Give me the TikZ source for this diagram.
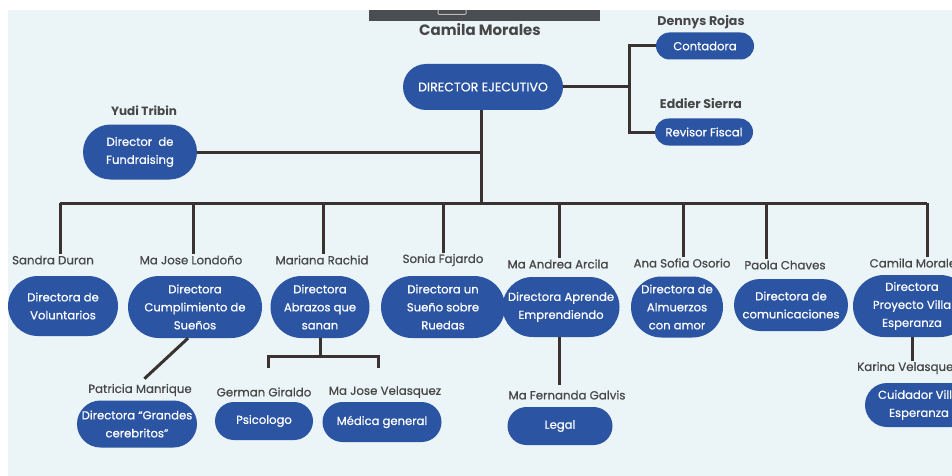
\documentclass[tikz,border=0pt]{standalone}
\usepackage{fontspec}
\setmainfont{Poppins}
\newfontfamily\mymedfont{Poppins}[FakeBold=0.6]
\usetikzlibrary{calc}
\definecolor{boxblue}{HTML}{2B54A3}
\definecolor{bgblue}{HTML}{EBF4F7}
\definecolor{conncol}{HTML}{3A3230}
\definecolor{labcol}{HTML}{474747}
\definecolor{topbar}{HTML}{4B4E51}
\newcommand\myboxfont{\mymedfont\fontsize{11.6}{18}\selectfont}
\newcommand\mylabfont{\mymedfont\fontsize{11.8}{14}\selectfont}
\newcommand\myboldfont{\fontsize{12.6}{15}\selectfont\bfseries}
\begin{document}
\begin{tikzpicture}[x=1pt,y=-1pt,
  pill/.style 2 args={fill=boxblue, text=white, minimum width=#1, minimum height=#2,
    rounded corners={0.5*#2}, inner sep=0pt, align=center, font=\myboxfont},
  lab/.style={text=labcol, inner sep=1pt, font=\mylabfont},
  blab/.style={text=labcol, inner sep=1pt, font=\myboldfont},
  conn/.style={draw=conncol, line width=3pt}]
\clip (0,0) rectangle (952,476);
\useasboundingbox (0,0) rectangle (952,476);
\fill[white] (0,0) rectangle (952,476);
\fill[bgblue] (8,10) rectangle (952,476);
\fill[topbar] (369,10) rectangle (600,21);
\draw[gray!55, line width=1pt, rounded corners=1pt] (438,10) -- (438,14.5) -- (466,14.5) -- (466,10);

% top
\node[blab, font=\fontsize{15}{17}\selectfont\bfseries] (tcam) at (480,30) {Camila Morales};
\node[pill={160pt}{46pt}, font=\mymedfont\fontsize{12.6}{15}\selectfont] (dir) at (483,87) {DIRECTOR EJECUTIVO};
\node[blab] (lden) at (701,22) {Dennys Rojas};
\node[pill={98pt}{27pt}] (cont) at (705,46) {Contadora};
\node[blab] (ledd) at (701,104) {Eddier Sierra};
\node[pill={98pt}{27pt}] (rev) at (704,132) {Revisor Fiscal};
\node[blab, font=\fontsize{12}{14}\selectfont\bfseries] (lyud) at (144,111) {Yudi Tribin};
\node[pill={114pt}{55pt}] (fund) at (140,152) {Director\ \ de\\Fundraising};

% level 2
\node[lab] (l1) at (53,260) {Sandra Duran};
\node[pill={110pt}{60pt}] (s1) at (63,306) {Directora de\\Voluntarios};
\node[lab] (l2) at (191,260) {Ma Jose Londoño};
\node[pill={134pt}{62pt}] (s2) at (195,307) {Directora\\Cumplimiento de\\Sueños};
\node[lab] (l3) at (322,260) {Mariana Rachid};
\node[pill={99pt}{62pt}] (s3) at (320,307) {Directora\\Abrazos que\\sanan};
\node[lab] (l4) at (443,260) {Sonia Fajardo};
\node[pill={124pt}{62pt}] (s4) at (443,307) {Directora un\\Sueño sobre\\Ruedas};
\node[lab] (l5) at (558,264) {Ma Andrea Arcila};
\node[pill={117pt}{60pt}] (s5) at (561,307) {Directora Aprende\\Emprendiendo};
\node[lab] (l6) at (682,263) {Ana Sofia Osorio};
\node[pill={92pt}{61pt}] (s6) at (677,307) {Directora de\\Almuerzos\\con amor};
\node[lab] (l7) at (785,265) {Paola Chaves};
\node[pill={114pt}{52pt}] (s7) at (791,305) {Directora de\\comunicaciones};
\node[lab] (l8) at (916,263) {Camila Morales};
\node[pill={118pt}{62pt}] (s8) at (912,306) {Directora\\Proyecto Villa\\Esperanza};

% level 3
\node[lab] (lp1) at (140,390) {Patricia Manrique};
\node[pill={120pt}{47pt}] (p1) at (137,424) {Directora “Grandes\\cerebritos”};
\node[lab] (lp2) at (264,392) {German Giraldo};
\node[pill={98pt}{38pt}] (p2) at (264,421) {Psicologo};
\node[lab] (lp3) at (385,392) {Ma Jose Velasquez};
\node[pill={119pt}{40pt}] (p3) at (382,422) {Médica general};
\node[lab] (lp4) at (567,395) {Ma Fernanda Galvis};
\node[pill={105pt}{38pt}] (p4) at (560,426) {Legal};
\node[lab] (lp5) at (908,368) {Karina Velasquez};
\node[pill={108pt}{44pt}] (p5) at (919,405) {Cuidador Villa\\Esperanza};

% connectors
\coordinate (rj) at (629,87);
\coordinate (t) at (481,203);
\coordinate (b1) at (60,203);
\coordinate (b2) at (193,203);
\coordinate (b3) at (323,203);
\coordinate (b4) at (443,203);
\coordinate (b5) at (559,203);
\coordinate (b6) at (683,203);
\coordinate (b7) at (766,203);
\coordinate (b8) at (927,203);
\coordinate (g1) at (268,368);
\coordinate (g2) at (378,368);

\draw[conn] (dir.east) -- (rj);
\draw[conn] (cont.west) -| (rj) |- (rev.west);
\draw[conn] (dir.south -| t) -- (t);
\draw[conn] (fund.east) -- (fund.east -| t);
\draw[conn] (b1) -- (b8);
\foreach \i in {1,...,8}{
  \draw[conn] (b\i) -- (b\i |- l\i.north);
}
\draw[conn, shorten >=6pt] ([xshift=-7pt]s2.south) -- (lp1.north);
\draw[conn] (s3.south) -- ++(0,18) coordinate (m);
\draw[conn] (g1) |- (m) -| (g2);
\draw[conn, shorten >=4pt] (s5.south -| b5) -- (b5 |- lp4.north);
\draw[conn] (s8.south) -- (s8.south |- lp5.north);
\end{tikzpicture}
\end{document}
